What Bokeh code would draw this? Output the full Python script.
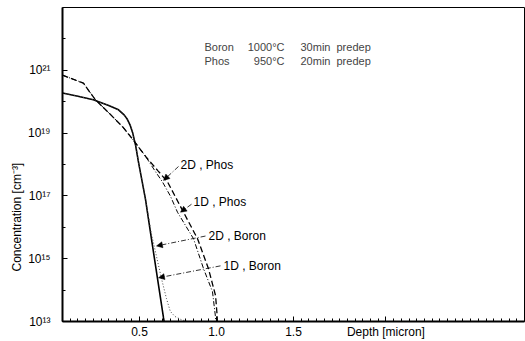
from bokeh.embed import file_html
from bokeh.models import (Arrow, CustomJSTickFormatter, FixedTicker, Label,
                          NormalHead, Title)
from bokeh.plotting import figure
from bokeh.resources import INLINE

# ---- diffusion profiles: depth [micron] vs concentration [cm^-3] ----
boron_1d_depth = [0.0, 0.10, 0.20, 0.30, 0.364, 0.40, 0.42, 0.44, 0.455, 0.475, 0.494, 0.539, 0.571, 0.617, 0.656, 0.66]
boron_1d_conc = [1.9e20, 1.5e20, 1.15e20, 7.6e19, 5.5e19, 3.8e19, 2.8e19, 1.75e19, 1.05e19, 4.0e18, 1.15e18, 7.8e16, 7.0e15, 2.3e14, 1.3e13, 1.0e13]

boron_2d_depth = [0.0, 0.10, 0.20, 0.30, 0.364, 0.40, 0.42, 0.44, 0.455, 0.475, 0.494, 0.539, 0.575, 0.643, 0.675, 0.70, 0.73, 0.77, 0.81]
boron_2d_conc = [1.9e20, 1.5e20, 1.15e20, 7.6e19, 5.5e19, 3.8e19, 2.8e19, 1.75e19, 1.05e19, 4.0e18, 1.15e18, 7.8e16, 7.0e15, 2.3e14, 5.4e13, 2.1e13, 1.45e13, 1.15e13, 1.0e13]

phos_1d_depth = [0.0, 0.136, 0.169, 0.214, 0.299, 0.39, 0.46, 0.54, 0.62, 0.682, 0.73, 0.786, 0.877, 0.948, 0.994, 1.004, 1.006]
phos_1d_conc = [7.0e20, 3.9e20, 2.3e20, 1.15e20, 4.5e19, 1.6e19, 6.0e18, 1.8e18, 6.3e17, 2.8e17, 1.0e17, 3.0e16, 4.3e15, 4.8e14, 6.6e13, 1.6e13, 1.0e13]

phos_2d_depth = [0.0, 0.136, 0.169, 0.214, 0.299, 0.39, 0.46, 0.54, 0.60, 0.649, 0.70, 0.747, 0.851, 0.916, 0.974, 0.992, 0.995]
phos_2d_conc = [7.0e20, 3.9e20, 2.3e20, 1.15e20, 4.5e19, 1.6e19, 6.0e18, 1.8e18, 6.3e17, 2.8e17, 1.0e17, 3.0e16, 4.3e15, 4.8e14, 8.9e13, 1.6e13, 1.0e13]

x_tick_values = [0.5, 1.0, 1.5]
x_title_at = 2.10          # the depth title sits in the tick-label row
y_tick_values = [1e13, 1e15, 1e17, 1e19, 1e21]

FONT = "Liberation Sans"

p = figure(width=525, height=341, x_range=(0, 3.0), y_range=(1e13, 1e23),
           y_axis_type="log", output_backend="svg", toolbar_location=None,
           min_border_left=62, min_border_right=1, min_border_top=7,
           min_border_bottom=18, background_fill_color="white")
p.grid.visible = False
p.outline_line_color = "black"
p.outline_line_width = 1

# axes: inward ticks, heavy axis lines
p.xaxis.ticker = FixedTicker(ticks=x_tick_values + [x_title_at],
                             minor_ticks=[round(0.05 * i, 2) for i in range(61)])
p.xaxis.formatter = CustomJSTickFormatter(code="""
    if (Math.abs(tick - %r) < 1e-6) { return "Depth [micron]"; }
    return tick.toFixed(1);
""" % x_title_at)
p.yaxis.ticker = FixedTicker(ticks=y_tick_values,
                             minor_ticks=[10.0 ** k for k in range(13, 24)])
p.yaxis.formatter = CustomJSTickFormatter(code="""
    const sup = {"0":"\u2070","1":"\u00b9","2":"\u00b2","3":"\u00b3","4":"\u2074",
                 "5":"\u2075","6":"\u2076","7":"\u2077","8":"\u2078","9":"\u2079"};
    const e = Math.round(Math.log10(tick));
    return "10" + String(e).split("").map(c => sup[c]).join("");
""")
for ax in (p.xaxis[0], p.yaxis[0]):
    ax.axis_line_width = 2
    ax.axis_line_color = "black"
    ax.major_tick_in = 5
    ax.major_tick_out = 0
    ax.minor_tick_in = 3
    ax.minor_tick_out = 0
    ax.major_tick_line_color = "black"
    ax.minor_tick_line_color = "black"
    ax.major_label_text_font = FONT
    ax.major_label_text_color = "black"
p.xaxis.major_label_standoff = 3
p.xaxis.major_label_text_font_size = "12px"
p.yaxis.major_label_standoff = 12
p.yaxis.major_label_text_font_size = "12px"

# concentration title on the left side
p.add_layout(Title(text="Concentration  [cm\u207b\u00b3]", align="left",
                   offset=50, standoff=3, text_font=FONT,
                   text_font_size="12px", text_font_style="normal",
                   text_color="black"), "left")

# profiles
p.line(boron_1d_depth, boron_1d_conc, line_color="black", line_width=1.6)
p.line(boron_2d_depth, boron_2d_conc, line_color="#444444", line_width=1,
       line_dash="1 2")
p.line(phos_1d_depth, phos_1d_conc, line_color="black", line_width=1.3,
       line_dash="6 3")
p.line(phos_2d_depth, phos_2d_conc, line_color="black", line_width=1,
       line_dash="5 2 1 2")


def px_x(px):
    return (px - 62) / 154.0


def px_y(py):
    return 10 ** (13 + (323 - py) / 31.6)


# curve labels with leader arrows
curve_labels = [
    ("2D , Phos", 180, 165, (178, 167), (163, 181)),
    ("1D , Phos", 193, 203, (191, 205), (180, 213)),
    ("2D , Boron", 208, 237, (205, 237), (156, 247)),
    ("1D , Boron", 223, 267, (220, 267), (158, 279)),
]
for text, tx, ty, (sx, sy), (ex, ey) in curve_labels:
    p.add_layout(Label(x=px_x(tx), y=px_y(ty), text=text, text_font=FONT,
                       text_font_size="12px", text_baseline="middle",
                       text_color="black"))
    p.add_layout(Arrow(x_start=px_x(sx), y_start=px_y(sy), x_end=px_x(ex),
                       y_end=px_y(ey), line_width=0.8, line_dash="5 2 1 2",
                       end=NormalHead(size=6, line_width=0.5,
                                      fill_color="black")))

# process conditions
rows = [("Boron", "1000°C", "30min", "predep", 47),
        ("Phos", "950°C", "20min", "predep", 61)]
for dopant, temp, tm, step, ty in rows:
    y = px_y(ty)
    p.add_layout(Label(x=px_x(204), y=y, text=dopant, text_font=FONT,
                       text_font_size="11px", text_baseline="middle"))
    p.add_layout(Label(x=px_x(284), y=y, text=temp, text_font=FONT,
                       text_font_size="11px", text_baseline="middle",
                       text_align="right"))
    p.add_layout(Label(x=px_x(300), y=y, text=tm, text_font=FONT,
                       text_font_size="11px", text_baseline="middle"))
    p.add_layout(Label(x=px_x(336), y=y, text=step, text_font=FONT,
                       text_font_size="11px", text_baseline="middle"))

open("out.html", "w").write(file_html(p, INLINE))
